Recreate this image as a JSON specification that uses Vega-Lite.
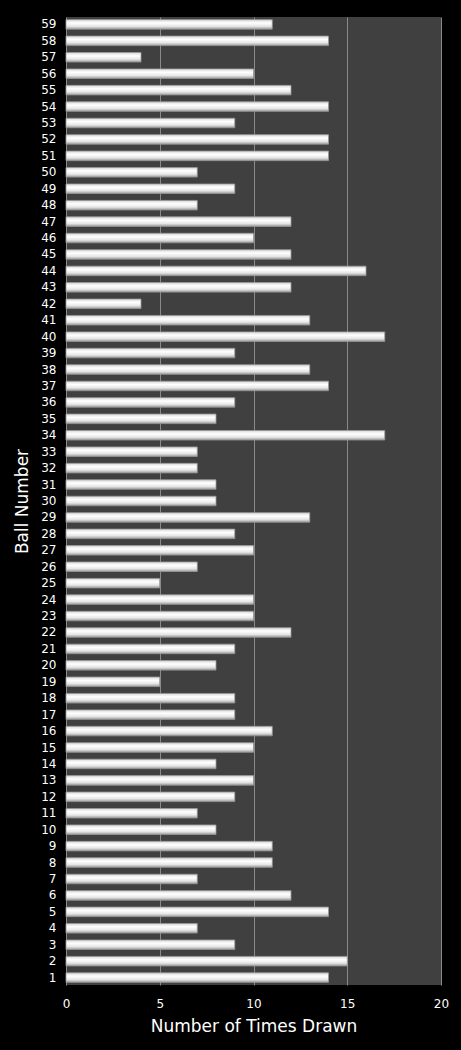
{
  "$schema": "https://vega.github.io/schema/vega-lite/v6.json",
  "autosize": {"type": "none"},
  "padding": {"left": 66, "top": 17, "right": 20, "bottom": 65},
  "width": 375,
  "height": 968,
  "background": "#000000",
  "config": {
    "view": {"fill": "#404040", "stroke": null},
    "font": "DejaVu Sans",
    "axis": {"labelColor": "#ffffff", "titleColor": "#ffffff", "domain": false, "ticks": false, "labelFont": "DejaVu Sans", "titleFont": "DejaVu Sans", "titleFontWeight": "normal"}
  },
  "data": {
    "values": [
      {"ball": 1, "times": 14}, {"ball": 2, "times": 15}, {"ball": 3, "times": 9},
      {"ball": 4, "times": 7}, {"ball": 5, "times": 14}, {"ball": 6, "times": 12},
      {"ball": 7, "times": 7}, {"ball": 8, "times": 11}, {"ball": 9, "times": 11},
      {"ball": 10, "times": 8}, {"ball": 11, "times": 7}, {"ball": 12, "times": 9},
      {"ball": 13, "times": 10}, {"ball": 14, "times": 8}, {"ball": 15, "times": 10},
      {"ball": 16, "times": 11}, {"ball": 17, "times": 9}, {"ball": 18, "times": 9},
      {"ball": 19, "times": 5}, {"ball": 20, "times": 8}, {"ball": 21, "times": 9},
      {"ball": 22, "times": 12}, {"ball": 23, "times": 10}, {"ball": 24, "times": 10},
      {"ball": 25, "times": 5}, {"ball": 26, "times": 7}, {"ball": 27, "times": 10},
      {"ball": 28, "times": 9}, {"ball": 29, "times": 13}, {"ball": 30, "times": 8},
      {"ball": 31, "times": 8}, {"ball": 32, "times": 7}, {"ball": 33, "times": 7},
      {"ball": 34, "times": 17}, {"ball": 35, "times": 8}, {"ball": 36, "times": 9},
      {"ball": 37, "times": 14}, {"ball": 38, "times": 13}, {"ball": 39, "times": 9},
      {"ball": 40, "times": 17}, {"ball": 41, "times": 13}, {"ball": 42, "times": 4},
      {"ball": 43, "times": 12}, {"ball": 44, "times": 16}, {"ball": 45, "times": 12},
      {"ball": 46, "times": 10}, {"ball": 47, "times": 12}, {"ball": 48, "times": 7},
      {"ball": 49, "times": 9}, {"ball": 50, "times": 7}, {"ball": 51, "times": 14},
      {"ball": 52, "times": 14}, {"ball": 53, "times": 9}, {"ball": 54, "times": 14},
      {"ball": 55, "times": 12}, {"ball": 56, "times": 10}, {"ball": 57, "times": 4},
      {"ball": 58, "times": 14}, {"ball": 59, "times": 11}
    ]
  },
  "mark": {
    "type": "bar",
    "stroke": "#9a9a9a",
    "strokeWidth": 0.8,
    "color": {
      "gradient": "linear",
      "x1": 0, "y1": 0, "x2": 0, "y2": 1,
      "stops": [
        {"offset": 0, "color": "#d8d8d8"},
        {"offset": 0.35, "color": "#ffffff"},
        {"offset": 0.7, "color": "#e6e6e6"},
        {"offset": 1, "color": "#9c9c9c"}
      ]
    }
  },
  "encoding": {
    "y": {
      "field": "ball",
      "type": "ordinal",
      "sort": "descending",
      "scale": {"paddingInner": 0.42, "paddingOuter": 0.16},
      "axis": {"title": "Ball Number", "labelFontSize": 12, "titleFontSize": 17, "labelPadding": 10, "titlePadding": 9, "grid": false}
    },
    "x": {
      "field": "times",
      "type": "quantitative",
      "scale": {"domain": [0, 20]},
      "axis": {"values": [0, 5, 10, 15, 20], "title": "Number of Times Drawn", "labelFontSize": 12, "titleFontSize": 17, "labelPadding": 13, "titlePadding": 9, "grid": true, "gridColor": "#8a8a8a", "gridWidth": 1, "labelFlush": false}
    }
  }
}
